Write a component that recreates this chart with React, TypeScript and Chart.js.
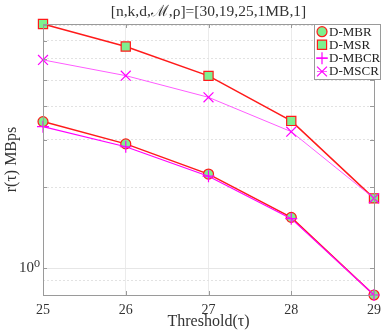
import React, { useEffect, useRef } from "react";
import { Chart, registerables } from "chart.js";

Chart.register(...registerables);

const thresholds = [25, 26, 27, 28, 29];
const dMBR = [3.51, 2.9, 2.24, 1.547, 0.796];
const dMSR = [8.09, 6.67, 5.19, 3.53, 1.82];
const dMBCR = [3.36, 2.83, 2.2, 1.53, 0.796];
const dMSCR = [5.95, 5.2, 4.32, 3.22, 1.82];
const yGridValues = [0.9, 1, 2, 3, 4, 5, 6, 7, 8];
const titleText = "[n,k,d,ℳ,ρ]=[30,19,25,1MB,1]";
const xTitle = "Threshold(τ)";
const yTitle = "r(τ) MBps";
const legendLabels = ["D-MBR", "D-MSR", "D-MBCR", "D-MSCR"];

const FONT = "'Liberation Serif', 'DejaVu Serif', serif";
const GREEN = "#7ef08f";
const RED = "#ff1a1a";
const MAG = "#ff00ff";
const MAG2 = "#ff5cff";
const AXIS = "#9a9a9a";

const allVals = [...dMBR, ...dMSR, ...dMBCR, ...dMSCR];
const yMin = Math.min(...allVals);
const yMax = Math.max(...allVals);

function toPts(arr: number[]) {
  return arr.map((v, i) => ({ x: thresholds[i], y: v }));
}

const markerStyles = [
  { style: "circle", r: 5, fill: GREEN, stroke: RED, bw: 1.2 },
  { style: "rect", r: 6.5, fill: GREEN, stroke: RED, bw: 1.2 },
  { style: "cross", r: 6, fill: MAG, stroke: MAG, bw: 1.2 },
  { style: "crossRot", r: 7, fill: MAG, stroke: MAG, bw: 1.2 },
];

function drawMarker(ctx: CanvasRenderingContext2D, style: string, r: number, x: number, y: number) {
  ctx.beginPath();
  if (style === "circle") {
    ctx.arc(x, y, r, 0, Math.PI * 2);
    ctx.fill();
    ctx.stroke();
  } else if (style === "rect") {
    const s = Math.SQRT1_2 * r;
    ctx.rect(x - s, y - s, 2 * s, 2 * s);
    ctx.fill();
    ctx.stroke();
  } else if (style === "cross") {
    ctx.moveTo(x - r, y);
    ctx.lineTo(x + r, y);
    ctx.moveTo(x, y - r);
    ctx.lineTo(x, y + r);
    ctx.stroke();
  } else {
    const s = Math.SQRT1_2 * r;
    ctx.moveTo(x - s, y - s);
    ctx.lineTo(x + s, y + s);
    ctx.moveTo(x + s, y - s);
    ctx.lineTo(x - s, y + s);
    ctx.stroke();
  }
}

const overlayPlugin = {
  id: "overlay",
  afterDraw(chart: any) {
    const { ctx, chartArea } = chart;
    const { left, right, top, bottom } = chartArea;
    ctx.save();
    ctx.strokeStyle = AXIS;
    ctx.lineWidth = 1;
    ctx.strokeRect(Math.round(left) + 0.5, Math.round(top) + 0.5, Math.round(right - left), Math.round(bottom - top));
    const ys = chart.scales.y;
    ctx.beginPath();
    for (const v of [1, 2, 3, 4, 5, 6, 7, 8]) {
      const py = Math.round(ys.getPixelForValue(v)) + 0.5;
      ctx.moveTo(left, py);
      ctx.lineTo(left + 4, py);
      ctx.moveTo(right, py);
      ctx.lineTo(right - 4, py);
    }
    const xs = chart.scales.x;
    for (const v of thresholds) {
      const px = Math.round(xs.getPixelForValue(v)) + 0.5;
      ctx.moveTo(px, bottom);
      ctx.lineTo(px, bottom - 4);
      ctx.moveTo(px, top);
      ctx.lineTo(px, top + 4);
    }
    ctx.stroke();

    ctx.fillStyle = "#333";
    ctx.textAlign = "center";
    ctx.textBaseline = "middle";
    ctx.font = `15.5px ${FONT}`;
    ctx.fillText(titleText, (left + right) / 2, 12);
    ctx.font = `16px ${FONT}`;
    ctx.fillText(xTitle, (left + right) / 2, 322);
    ctx.save();
    ctx.translate(12, (top + bottom) / 2);
    ctx.rotate(-Math.PI / 2);
    ctx.fillText(yTitle, 0, 0);
    ctx.restore();

    const bx = 314.5, by = Math.round(top) + 0.5, bw = 66, bh = 55;
    ctx.fillStyle = "#fff";
    ctx.fillRect(bx, by, bw, bh);
    ctx.strokeStyle = AXIS;
    ctx.strokeRect(bx, by, bw, bh);
    const rowY = [31.7, 44.7, 58.2, 71.5];
    ctx.textAlign = "left";
    ctx.font = `13px ${FONT}`;
    legendLabels.forEach((lab, i) => {
      const ds = chart.data.datasets[i];
      const y = rowY[i];
      ctx.strokeStyle = ds.borderColor;
      ctx.lineWidth = ds.borderWidth;
      ctx.beginPath();
      ctx.moveTo(317, y);
      ctx.lineTo(327, y);
      ctx.stroke();
      const m = markerStyles[i];
      ctx.fillStyle = m.fill;
      ctx.strokeStyle = m.stroke;
      ctx.lineWidth = m.bw;
      drawMarker(ctx, m.style, m.r, 322, y);
      ctx.fillStyle = "#222";
      ctx.fillText(lab, 329, y + 0.5);
    });
    ctx.restore();
  },
};

export default function App() {
  const ref = useRef<HTMLCanvasElement>(null);
  useEffect(() => {
    document.body.style.margin = "0";
    const canvas = ref.current!;
    const series = [dMBR, dMSR, dMBCR, dMSCR];
    const lineColors = [RED, RED, MAG, MAG2];
    const lineWidths = [1.5, 1.5, 1.2, 1];
    const orders = [4, 3, 2, 1];
    const chart = new Chart(canvas, {
      type: "line",
      data: {
        datasets: series.map((s, i) => ({
          label: legendLabels[i],
          data: toPts(s),
          borderColor: lineColors[i],
          borderWidth: lineWidths[i],
          pointStyle: markerStyles[i].style as any,
          pointRadius: markerStyles[i].r,
          pointBackgroundColor: markerStyles[i].fill,
          pointBorderColor: markerStyles[i].stroke,
          pointBorderWidth: markerStyles[i].bw,
          tension: 0,
          fill: false,
          order: orders[i],
          clip: false as any,
        })),
      },
      options: {
        animation: false,
        responsive: false,
        events: [],
        layout: { padding: { left: 0, right: 7, top: 24, bottom: 0 } },
        plugins: { legend: { display: false }, title: { display: false }, tooltip: { enabled: false } },
        scales: {
          x: {
            type: "linear",
            min: thresholds[0],
            max: thresholds[thresholds.length - 1],
            afterBuildTicks: (s: any) => {
              s.ticks = thresholds.map((v) => ({ value: v }));
            },
            afterFit: (s: any) => {
              s.height = 37;
            },
            ticks: {
              color: "#333",
              font: { family: FONT, size: 14 },
              padding: 7,
              maxRotation: 0,
              callback: (v: any) => String(v),
            },
            grid: { color: "#ebebeb", lineWidth: 1, drawTicks: false },
            border: { display: false },
          },
          y: {
            type: "logarithmic",
            min: yMin,
            max: yMax,
            afterBuildTicks: (s: any) => {
              s.ticks = yGridValues.map((v) => ({ value: v, major: v === 1 }));
            },
            afterFit: (s: any) => {
              s.width = 43;
            },
            ticks: {
              color: "#333",
              font: { family: FONT, size: 15 },
              padding: 3,
              autoSkip: false,
              callback: (v: any) => (v === 1 ? "10⁰" : ""),
            },
            grid: {
              color: (c: any) => (c.tick && c.tick.value === 1 ? "#e6e6e6" : "#e2e2e2"),
              lineWidth: 1,
              drawTicks: false,
            },
            border: {
              display: false,
              dash: (c: any) => (c.tick && c.tick.value === 1 ? [] : [2, 2]),
            },
          },
        },
      },
      plugins: [overlayPlugin],
    } as any);
    return () => chart.destroy();
  }, []);
  return <canvas ref={ref} width={388} height={332} style={{ display: "block" }} />;
}
